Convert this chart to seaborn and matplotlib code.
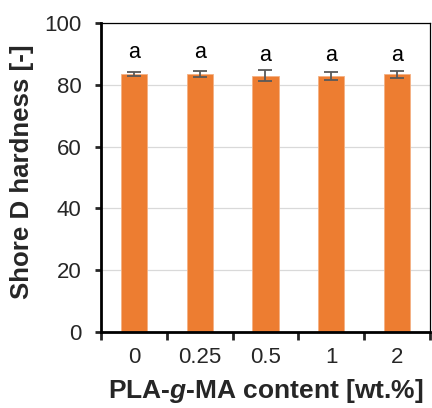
import matplotlib
matplotlib.use("Agg")
import matplotlib.pyplot as plt
import seaborn as sns
import pandas as pd

categories = ["0", "0.25", "0.5", "1", "2"]
hardness = [83.4, 83.4, 82.9, 82.8, 83.3]
errors = [0.7, 1.0, 1.8, 1.4, 1.2]
letters = ["a", "a", "a", "a", "a"]
yticks = [0, 20, 40, 60, 80, 100]

sns.set_theme(style="white")
plt.rcParams["font.family"] = ["Liberation Sans", "DejaVu Sans"]
plt.rcParams["mathtext.fontset"] = "custom"
plt.rcParams["mathtext.it"] = "Liberation Sans:italic:bold"
plt.rcParams["mathtext.rm"] = "Liberation Sans:bold"

df = pd.DataFrame({"content": categories, "hardness": hardness})

fig = plt.figure(figsize=(4.32, 4.08), dpi=100)
ax = fig.add_axes([0.234, 0.186, 0.761, 0.758])

ax.set_axisbelow(True)
ax.yaxis.grid(True, color="#D9D9D9", linewidth=0.9)
sns.barplot(data=df, x="content", y="hardness", order=categories, color="#ED7D31",
            saturation=1, width=0.4, edgecolor="#F4B183", linewidth=0.6, errorbar=None, ax=ax)
ax.errorbar(range(len(categories)), hardness, yerr=errors, fmt="none",
            ecolor="#595959", elinewidth=1.3, capsize=5, capthick=1.3, zorder=3)
for i, t in enumerate(letters):
    ax.text(i, 90.3 if i < 2 else 89.6, t, ha="center", va="center", fontsize=15.5, color="black")

ax.set_ylim(0, 100)
ax.set_xlim(-0.5, len(categories) - 0.5)
ax.set_yticks(yticks)
ax.set_xticks(range(len(categories)))
ax.set_xticklabels(categories)
ax.set_xticks([i - 0.5 for i in range(len(categories) + 1)], minor=True)
ax.tick_params(axis="x", which="major", length=0, pad=11, labelsize=16)
ax.tick_params(axis="x", which="minor", length=6, width=2, direction="out", bottom=True)
ax.tick_params(axis="y", which="major", length=4, width=2, direction="out", pad=10, labelsize=16, left=True)

for s in ["left", "bottom"]:
    ax.spines[s].set_linewidth(2)
    ax.spines[s].set_color("black")
for s in ["top", "right"]:
    ax.spines[s].set_linewidth(0.9)
    ax.spines[s].set_color("black")
    ax.spines[s].set_visible(True)

ax.set_xlabel(r"PLA-$\mathit{g}$-MA content [wt.%]", fontsize=19, fontweight="bold", labelpad=6)
ax.set_ylabel("Shore D hardness [-]", fontsize=18.6, fontweight="bold")
ax.yaxis.set_label_coords(-0.205, 0.52)

fig.savefig("out.png", dpi=100)
